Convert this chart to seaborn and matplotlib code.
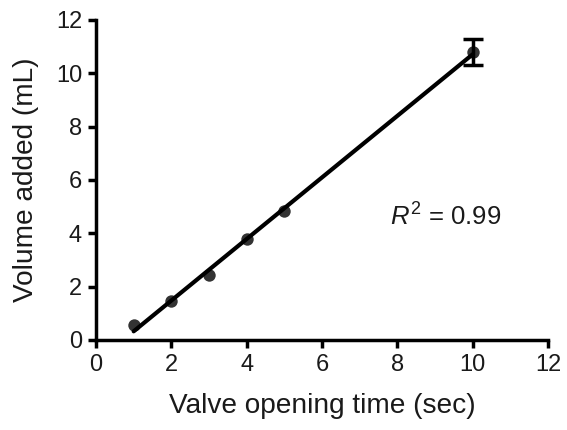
import numpy as np
import pandas as pd
import matplotlib
matplotlib.use("Agg")
import matplotlib.pyplot as plt
import seaborn as sns

# Data
time_sec = [1, 2, 3, 4, 5, 10]
volume_ml = [0.55, 1.45, 2.45, 3.78, 4.85, 10.8]
volume_err = [np.nan, np.nan, np.nan, np.nan, np.nan, 0.5]
x_ticks = [0, 2, 4, 6, 8, 10, 12]
y_ticks = [0, 2, 4, 6, 8, 10, 12]
r2_label = "0.99"

sns.set_theme(style="ticks")
plt.rcParams['font.family'] = ['Liberation Sans', 'DejaVu Sans']
plt.rcParams['mathtext.fontset'] = 'custom'
plt.rcParams['mathtext.rm'] = 'Liberation Sans'
plt.rcParams['mathtext.it'] = 'Liberation Sans:italic'

df = pd.DataFrame({"t": time_sec, "v": volume_ml, "e": volume_err})
df_err = df.dropna()

fig = plt.figure(figsize=(5.67, 4.30), dpi=100)
ax = fig.add_axes([96/567, 1-340/430, (548-96)/567, (340-20)/430])

sns.regplot(data=df, x="t", y="v", ci=None, ax=ax,
            scatter_kws=dict(s=80, color="black", zorder=3, linewidths=0),
            line_kws=dict(color="black", lw=3))
ax.errorbar(df_err["t"], df_err["v"], yerr=df_err["e"], fmt="none", ecolor="black",
            elinewidth=2.5, capsize=7, capthick=2.5, zorder=4)

ax.set_xlim(0, 12)
ax.set_ylim(0, 12)
ax.set_xticks(x_ticks)
ax.set_yticks(y_ticks)
ax.set_xlabel("Valve opening time (sec)", fontsize=20.2, labelpad=12, color="#1a1a1a")
ax.set_ylabel("Volume added (mL)", fontsize=20.2, labelpad=12, color="#1a1a1a")
ax.tick_params(axis="both", labelsize=17, width=2.5, length=6, pad=4,
               direction="out", color="black", labelcolor="#1a1a1a")
sns.despine(ax=ax)
for s in ["left", "bottom"]:
    ax.spines[s].set_linewidth(2.5)
    ax.spines[s].set_color("black")

ax.text(7.8, 4.6, r"$\mathit{R}^{2}$ = " + r2_label, fontsize=18.5, va="center", ha="left", color="#1a1a1a")

fig.savefig("out.png", dpi=100)
